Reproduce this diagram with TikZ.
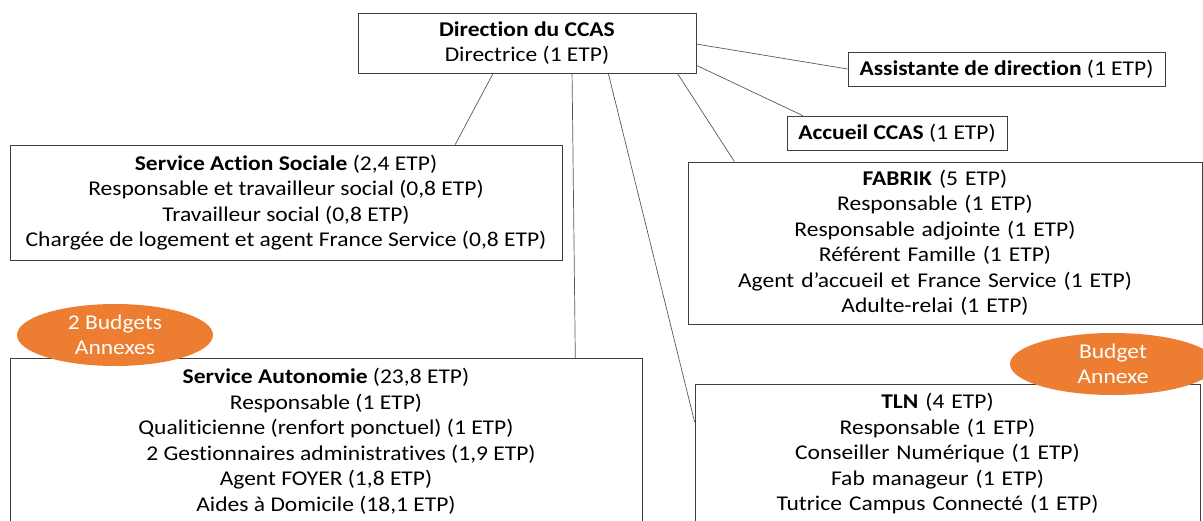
\documentclass[tikz,border=0pt]{standalone}
\usepackage{fontspec}
\setmainfont{Carlito}[Ligatures=NoCommon,FakeStretch=1.12]
\usetikzlibrary{calc,shapes.geometric}
\definecolor{annexe}{HTML}{ED7D31}
\definecolor{frame}{HTML}{3F3F3F}
\definecolor{link}{HTML}{595959}

\begin{document}
\begin{tikzpicture}[x=1pt,y=-1pt,
  every node/.style={font=\fontsize{21}{25.5}\selectfont,align=center,inner sep=0pt},
  unit/.style={draw=frame,line width=0.8pt,fill=white,minimum width=#1},
  openunit/.style={draw=frame,line width=0.8pt,fill=white,anchor=north,minimum width=#1,inner ysep=10pt},
  leftpad/.style={text width=#1,execute at begin node={\advance\rightskip by 20pt}},
  budget/.style={ellipse,fill=annexe,text=white,minimum width=#1,minimum height=62pt},
  link/.style={draw=link,line width=0.7pt}]
  \useasboundingbox (0,0) rectangle (1203,520);
  \clip (0,0) rectangle (1203,520);
  % direction and staff attached to it
  \node[unit=338,minimum height=60] (dir) at (527,43) {\textbf{Direction du CCAS}\\Directrice (1 ETP)};
  \node[unit=317,minimum height=34] (asst) at (1006.5,69) {\textbf{Assistante de direction} (1 ETP)};
  \node[unit=220,minimum height=34] (accueil) at (897,133) {\textbf{Accueil CCAS} (1 ETP)};
  % services
  \node[unit=552,minimum height=115] (social) at (286,202.5) {\textbf{Service Action Sociale} (2,4 ETP)\\Responsable et travailleur social (0,8 ETP)\\Travailleur social (0,8 ETP)\\Chargée de logement et agent France Service (0,8 ETP)};
  \node[unit=514,minimum height=162,leftpad=494pt] (fabrik) at (945,243) {\textbf{FABRIK} (5 ETP)\\Responsable (1 ETP)\\Responsable adjointe (1 ETP)\\Référent Famille (1 ETP)\\Agent d’accueil et France Service (1 ETP)\\Adulte-relai (1 ETP)};
  \node[openunit=632] (autonomie) at (326,358) {\textbf{Service Autonomie} (23,8 ETP)\\Responsable (1 ETP)\\Qualiticienne (renfort ponctuel) (1 ETP)\\\hspace*{30pt}2 Gestionnaires administratives (1,9 ETP)\\Agent FOYER (1,8 ETP)\\Aides à Domicile (18,1 ETP)};
  \node[openunit=505,inner ysep=9pt,leftpad=480pt] (tln) at (947.5,384) {\textbf{TLN} (4 ETP)\\Responsable (1 ETP)\\Conseiller Numérique (1 ETP)\\Fab manageur (1 ETP)\\Tutrice Campus Connecté (1 ETP)};
  % links
  \draw[link] ($(dir.south west)!0.40!(dir.south east)$) -- ($(social.north west)!0.806!(social.north east)$);
  \draw[link] ($(dir.south west)!0.633!(dir.south east)$) -- ($(autonomie.north west)!0.894!(autonomie.north east)$);
  \draw[link] ($(dir.south west)!0.74!(dir.south east)$) -- ($(tln.north west)+(0,38)$);
  \draw[link] ($(dir.south west)!0.944!(dir.south east)$) -- ($(fabrik.north west)!0.091!(fabrik.north east)$);
  \draw[link] ($(dir.north east)!0.867!(dir.south east)$) -- ($(accueil.north west)!0.073!(accueil.north east)$);
  \draw[link] ($(dir.north east)!0.517!(dir.south east)$) -- (asst.west);
  % budget labels
  \node[budget=196] (annexes) at (115,335) {2 Budgets\\Annexes};
  \node[budget=206] (annexe) at (1113,364) {Budget\\Annexe};
\end{tikzpicture}
\end{document}
